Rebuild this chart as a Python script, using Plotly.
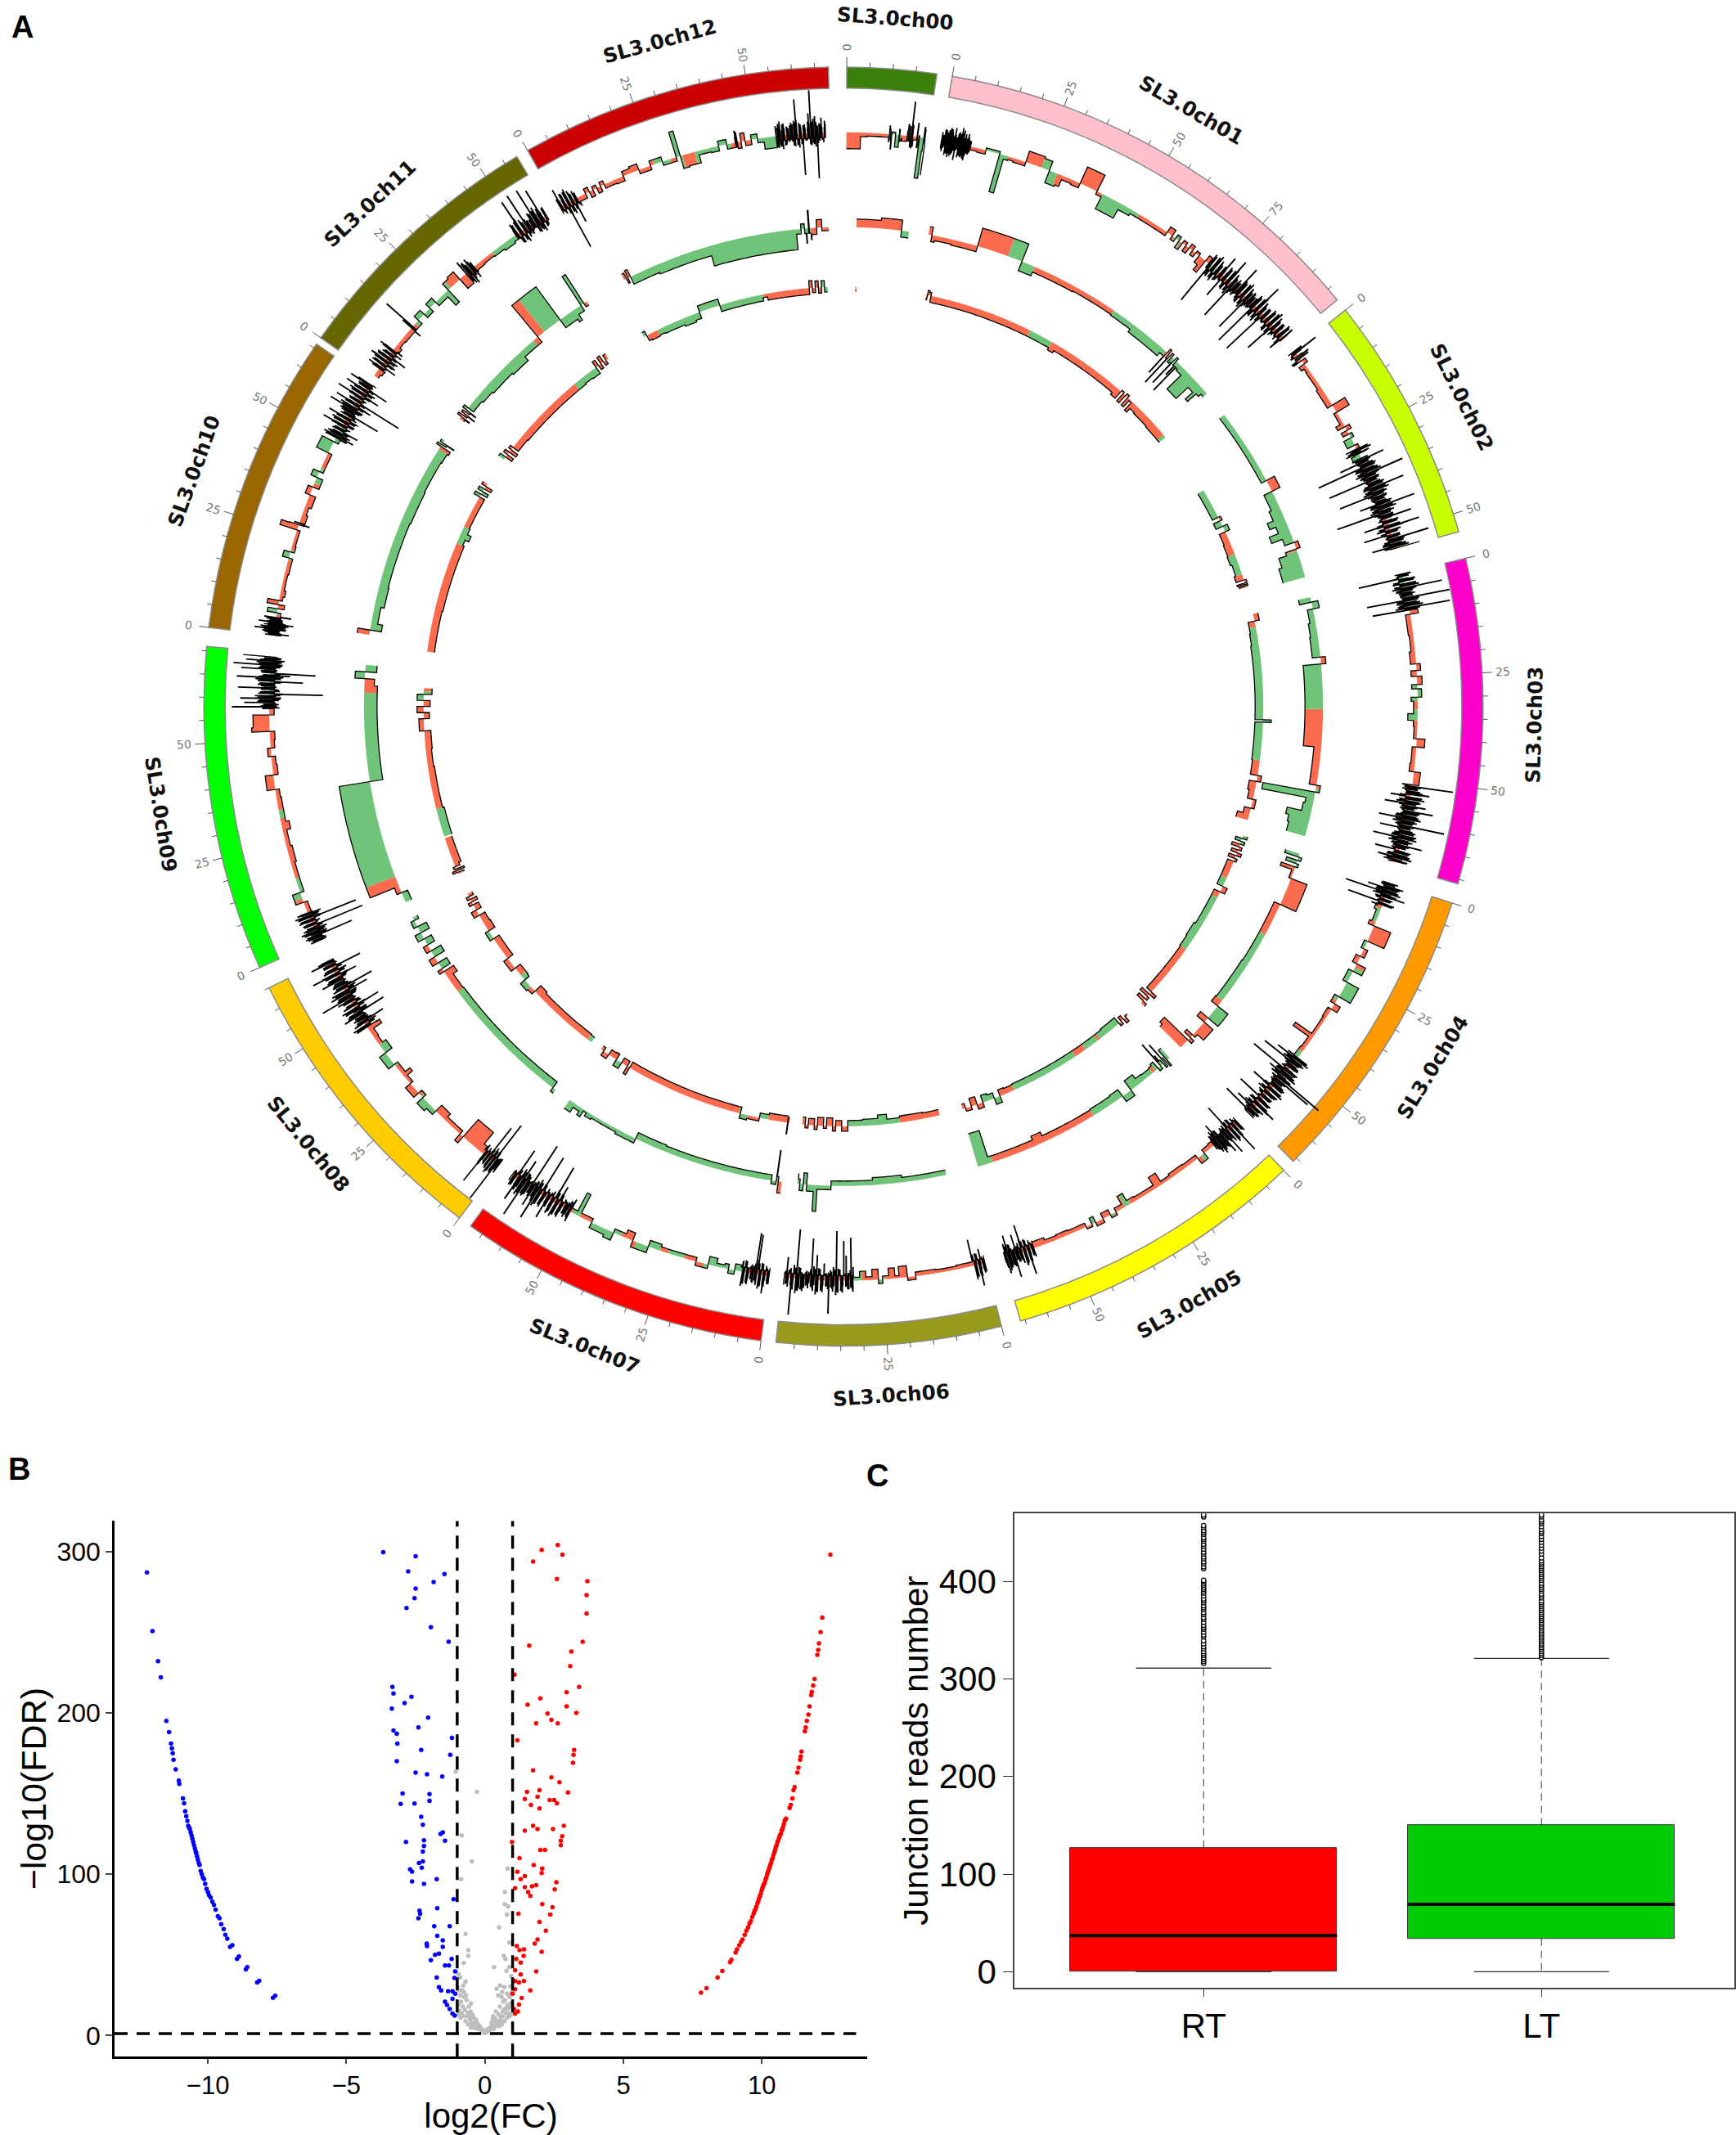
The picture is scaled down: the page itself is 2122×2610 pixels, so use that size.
import numpy as np
import plotly.graph_objects as go

W, H = 2122, 2610
CX, CY = 1031, 865  # centre of the circos panel, in page pixels

# ---- panel A: chromosomes
chrom_names = ["SL3.0ch00", "SL3.0ch01", "SL3.0ch02", "SL3.0ch03", "SL3.0ch04", "SL3.0ch05", "SL3.0ch06",
               "SL3.0ch07", "SL3.0ch08", "SL3.0ch09", "SL3.0ch10", "SL3.0ch11", "SL3.0ch12"]
chrom_start = [0.3, 9.8, 51.7, 76.6, 107.9, 136.5, 165.7, 187.4, 216.9, 245.9, 277.1, 305.2, 330.4]
chrom_len = [19.5, 98, 54, 71, 66, 66, 49, 68, 65, 71, 66, 58, 68]
chrom_colors = ["#3B7F0A", "#FFC0CB", "#C8FF00", "#FF00CC", "#FF9900", "#FFFF00", "#99991E",
                "#FF0000", "#FFCC00", "#00FF00", "#996600", "#666600", "#CC0000"]
label_theta = [4.3, 30.2, 63.4, 91.5, 121.5, 150, 176, 202, 230.7, 261, 290, 316.8, 344.6]
DEG_PER_MB = 0.4155

# ---- track 1 (outer): step ends in Mb, signed height, green spans
t1_ch00_end = [3.4, 5, 7.5, 10.2, 10.9, 11.8, 12.7, 13.4, 14.5, 15.2, 15.7, 16.1, 17, 17.6, 18.5, 19.2]
t1_ch00_val = [-20, -5, -4, -4, -18, 3, -15, -4, -7, -3, 42, -12, -4, 2, -50, -45]
t1_ch00_green = [[10.2, 13], [17.5, 19.2]]

t1_ch01_end = [.4, .8, 1.2, 1.6, 2, 2.4, 2.8, 3.2, 3.6, 4, 4.4, 4.8, 5.2, 5.6, 6, 6.4, 6.8, 7.2, 9, 11, 14.4, 15.6, 16.6, 18, 21,
               25, 27, 29.5, 30.5, 33, 35, 39.5, 41, 46, 49, 52, 56, 59, 60.5, 61.5, 62.5, 63.5, 64.5, 65.5, 66.5, 67.5, 68.5,
               69.5, 70.5, 71.5, 72, 72.6, 73.2, 73.8, 74.4, 75, 75.6, 76.2, 76.8, 77.4, 78, 78.6, 79.2, 79.8, 80.4, 81, 81.6,
               82.2, 82.8, 83.4, 84, 84.6, 85.2, 85.8, 86.4, 87, 87.6, 88.2, 88.8, 89.4, 90, 90.6, 91.2, 91.8, 92.4, 93, 93.6,
               94.2, 94.8, 95.4, 96, 96.6, 97]
t1_ch01_val = [-12, 14, -16, 10, -18, 16, -14, 18, -20, 12, -16, 20, -15, 8, -18, 14, -10, 6, -4, -5, 3, -48, -5, -4, -5,
               14, 12, -16, -14, -5, -6, 22, -4, -20, -8, -5, -5, -5, 8, -5, 5, -10, 4, -8, 6, -6, 3, -10, -18, 8,
               -55, -8, 9, -10, 8, -11, 25, -30, 8, -9, 30, -10, -50, 6, -11, 32, -10, -9, 10, -8, -48, 11, -9, 8,
               -60, -10, 34, -11, -6, -60, 10, -8, 10, -11, 7, -40, 9, -9, 10, -11, 8, -20, 6]
t1_ch01_green = [[11, 16.6], [25, 29], [41, 51], [61, 63], [72, 74]]

t1_ch02_end = [.7, 1.4, 2.2, 3, 4, 5, 6, 11, 16, 18, 21, 22, 23, 24, 25, 27, 28, 28.5, 29, 29.5, 30.5, 31, 31.6, 32.2, 32.8, 33.4, 34, 34.6,
               35.2, 35.8, 36.4, 37, 37.6, 38.2, 38.8, 39.4, 40, 40.6, 41.2, 41.8, 42.4, 43, 43.6, 44.2, 44.8, 45.4, 46, 46.6,
               47.2, 47.8, 48.4, 49, 49.6, 50.2, 50.8, 51.4, 52, 52.6, 53.2, 53.8]
t1_ch02_val = [30, -10, 6, -12, 5, -8, -4, -5, -7, 18, -4, -10, 6, -8, 4, -10, 4, -9, 3, -8, -11, 28, -30, 11, -62, 10, -9, 45,
               -10, 11, -55, 10, -11, 38, -9, 10, -48, 11, -9, 8, -26, 42, -10, 9, -60, 10, 32, -10, 11, -30, 38, -11, 9,
               -34, 10, 45, -11, 9, -28, 30]
t1_ch02_green = [[24, 27], [29, 31]]

t1_ch03_end = [.6, 1.2, 1.8, 2.4, 3, 3.6, 4.2, 4.8, 5.4, 6, 6.6, 7.2, 7.8, 8.4, 9, 10, 15, 19, 22, 23.6, 25, 27, 28, 30, 31, 34, 35.6,
               37, 40, 42, 46, 48, 51, 51.6, 52.2, 52.8, 53.4, 54, 54.6, 55.2, 55.8, 56.4, 57, 57.6, 58.2, 58.8, 59.4, 60, 60.6,
               61.2, 61.8, 62.4, 63, 63.6, 64.2, 64.8, 65.4, 66, 66.6, 67.2, 67.8, 68.4, 69, 69.6, 70.2]
t1_ch03_val = [-5, -55, 11, -9, 8, 45, -11, 6, -8, 52, -50, 10, -11, 50, -45, 10, -6, -5, -7, 5, -7, 6, -7, 5, -8, -5, -12,
               -5, -4, 10, -5, -6, 8, 50, -11, 10, 22, -24, 6, 11, -30, 20, -10, 30, -8, 11, -34, 10, -10, 48, -30, 10, -11,
               16, -36, 8, -11, 26, -10, -30, 10, 11, -24, 6, -10]
t1_ch03_green = [[0, 8], [27, 31], [33, 35.6]]

t1_ch04_end = [.5, 1, 1.5, 2, 2.5, 3, 3.5, 4, 4.5, 5, 5.5, 6, 7, 10, 11, 15, 17, 19, 21, 23, 26, 30, 32, 33.5, 36, 39, 41, 42, 45, 47.6,
               48.2, 48.8, 49.4, 50, 50.6, 51.2, 51.8, 52.4, 53, 53.6, 54.2, 54.8, 55.4, 56, 56.6, 57.2, 57.8, 58.4, 59, 59.6, 60.2, 60.8,
               61.4, 62, 62.6, 63.2, 63.8, 64.4, 65, 65.6]
t1_ch04_val = [-10, 18, -25, 11, -52, 6, 24, -11, 8, -45, 10, -6, -8, -5, -8, 22, -4, 5, -6, 12, -6, 16, -6, 8, -5, -4, -4, -28, -5, -6,
               -28, 10, -44, 6, 11, -10, -52, 10, -22, 5, 60, 45, -10, 11, 9, -30, 8, -10, 11, -10, 9, -36, 10, -11, 26, -8, -26, 11, -40, 8]
t1_ch04_green = [[6.5, 10], [15, 17], [22, 31], [46, 49]]

t1_ch05_end = [.5, 1, 1.5, 2, 2.5, 3, 3.5, 4, 4.5, 5, 5.5, 6, 6.5, 7, 7.5, 8, 9, 11, 13, 17, 21, 23.5, 25.5, 28, 31, 33, 34.5, 36.5, 38,
               40, 42, 43, 44.5, 46, 49, 52, 55, 58, 58.5, 59, 59.5, 60, 60.5, 61, 61.5, 62, 62.5, 63, 63.5, 64, 64.5, 65, 65.5]
t1_ch05_val = [8, -11, 36, -8, 16, -38, 6, 28, -11, 22, -6, 11, -24, 10, -11, 6, -6, -5, 8, -5, -6, -4, -16, -5, -5, -6, -16, -5, 4,
               -7, 5, -8, 3, -5, -5, -6, -5, -8, 8, -11, 30, -10, 16, -34, 6, 10, -24, 28, -8, 11, -26, 20, 6]
t1_ch05_green = [[11, 12], [32.5, 34], [37, 38], [42, 43]]

t1_ch06_end = [.5, 1, 1.5, 2, 2.5, 3, 7, 12, 17, 19, 21, 22, 23.5, 25, 26, 27.5, 29, 30.5, 32, 32.6, 33.2, 33.8, 34.4, 35, 35.6, 36.2, 36.8, 37.4, 38,
               38.6, 39.2, 39.8, 40.4, 41, 41.6, 42.2, 42.8, 43.4, 44, 44.6, 45.2, 45.8, 46.4, 47, 47.6, 48.2, 48.8]
t1_ch06_val = [11, -18, 26, -10, 8, -32, -5, -4, -5, 4, -14, -3, -13, -4, 5, -13, -4, -11, -4, -52, 10, -30, -48, 8, -11, -60, 6, -10, 40,
               -8, -20, 8, -11, -30, 6, -50, 4, -10, 10, -8, 11, -60, -11, 44, -10, -25, 8]
t1_ch06_green = [[24.5, 26], [30, 32]]

t1_ch07_end = [.5, 1, 1.5, 2, 2.5, 3, 3.5, 4, 4.5, 5, 5.5, 6, 6.5, 7, 8.5, 10, 11, 13, 15, 18, 20, 21, 23, 25, 27, 30, 34, 36, 39, 41, 44.8,
               46.5, 48, 49, 50.5, 51, 51.6, 52.2, 52.8, 53.4, 54, 54.6, 55.2, 55.8, 56.4, 57, 57.6, 58.2, 58.8, 59.4, 60, 60.6, 61.2, 61.8,
               62.4, 63, 63.6, 64.2, 64.8, 65.4, 66, 66.6, 67.2]
t1_ch07_val = [10, -11, 22, -11, 6, -48, -50, 11, -10, -6, 11, -9, 10, -5, -8, 5, -6, -4, -10, 5, -5, -5, -5, -5, -5, -8, 8, -10, -5, 10, 7,
               -5, -5, -30, -5, -11, 6, -8, -10, 11, -24, 6, -48, 16, -8, 26, -11, 8, -52, 10, 36, -11, 22, -60, 11, -11, 44, -30, 8, 28, -40, 11, 6]
t1_ch07_green = [[6, 16], [21, 25], [27, 33], [37, 45], [48, 50]]

t1_ch08_end = [.4, .8, 1.2, 1.6, 2, 2.4, 2.8, 3.2, 3.6, 4, 4.4, 5, 6, 11, 12, 15, 17, 20, 22, 24.5, 26, 29, 31, 32, 33, 35, 38.5, 41, 43, 45, 46,
               46.6, 47.2, 47.8, 48.4, 49, 49.6, 50.2, 50.8, 51.4, 52, 52.6, 53.2, 53.8, 54.4, 55, 55.6, 56.2, 56.8, 57.4, 58, 58.6, 59.2,
               59.8, 60.4, 61, 61.6, 62.2, 62.8, 63.4, 64, 64.6]
t1_ch08_val = [-8, 52, 10, -55, 11, -10, 11, -45, 8, -11, 40, -5, -10, -28, 10, -5, -5, -10, 6, 10, -5, 8, -4, -12, -5, -5, 9, -10, -5, -6, -18,
               10, -11, -28, 6, -8, 20, -36, 4, 11, -34, 8, -11, 16, 36, -11, 20, -30, -6, -40, 11, 8, 22, -11, -26, 30, -8, 11, -38, 10, 24, 10]
t1_ch08_green = [[20, 25], [34.5, 38], [38, 41]]

t1_ch09_end = [.5, 1, 1.5, 2, 2.5, 3, 3.5, 4, 4.5, 5, 5.5, 6, 6.5, 7, 7.5, 10, 12.5, 16, 20, 24, 26, 28, 30, 33, 36, 38, 41.5, 44, 46, 48,
               50, 52, 53, 56, 57.5, 58, 58.5, 59, 59.5, 60, 60.5, 61, 61.5, 62, 62.5, 63, 63.5, 64, 64.5, 65, 65.5, 66, 66.5, 67, 67.5, 68,
               68.5, 69, 69.5, 70]
t1_ch09_val = [-10, 11, -46, 6, -11, 10, -8, -65, 11, -11, 10, -60, -11, 8, -6, -5, 10, -5, -5, -7, -5, -5, -10, -6, -6, -5, 10, -6, -5, 4, -5,
               -6, 22, 20, -6, 45, -11, 30, -11, 35, -8, -65, 11, -11, 38, 10, 11, -40, 11, 40, -24, -55, 11, 35, -11, 45, -10, 30, -11, 34]
t1_ch09_green = [[11, 16], [31, 33], [60, 66]]

t1_ch10_end = [.4, .8, 1.2, 1.6, 2, 2.4, 2.8, 3.2, 3.6, 4, 4.6, 5.5, 6.5, 7.5, 8.5, 9.5, 11, 15, 19, 20.5, 22, 26, 27.2, 27.8, 30, 32, 35, 37, 39.5, 41, 43, 46,
               49, 50, 50.5, 51, 51.5, 52, 52.5, 53, 53.5, 54, 54.5, 55, 55.5, 56, 56.5, 57, 57.5, 58, 58.5, 59, 59.5, 60, 60.5, 61, 61.5, 62, 62.5, 63, 63.5, 64, 64.5, 65, 65.5]
t1_ch10_val = [-18, 11, -6, 24, -11, 8, -22, 20, -8, 11, -18, -5, 12, -8, 14, -4, -6, -4, -5, 8, -5, -4, 22, 6, -7, -5, -8, 6, -8, 8, -5, -5,
               16, -6, -22, 10, -11, -24, 8, -11, 26, -10, 11, -11, 24, -8, -40, 11, -11, 30, -6, -22, 26, -60, 11, -10, 30, -24, 11, -8, 25, -30, 11, 24, -10]
t1_ch10_green = [[5, 6.5], [18.5, 21], [38, 42], [46, 53]]

t1_ch11_end = [1, 2, 2.5, 3, 3.5, 4, 4.5, 5, 5.5, 6, 6.5, 7, 7.5, 8, 9, 11, 14.4, 15, 17, 19, 21, 23, 26, 27.2, 29, 31, 33, 33.6, 34.2, 34.8, 35.4, 36, 38, 41, 44, 47,
               48, 48.6, 49.2, 49.8, 50.4, 51, 51.6, 52.2, 52.8, 53.4, 54, 54.6, 55.2, 55.8, 56.4, 57]
t1_ch11_val = [-6, -8, 16, -20, 10, -16, 20, -8, 14, -24, 8, -14, 18, -6, -8, -5, -6, 42, -6, 7, -6, 7, -6, -20, 10, 12, -15, 12, -18, 14, -14, -6, -6, -5, -6, -8,
               -6, 11, -10, 42, -10, 8, 45, -11, 6, 11, 44, -11, 8, 38, -11, 11]
t1_ch11_green = [[16, 28], [41, 48]]

t1_ch12_end = [.5, 1, 1.5, 2, 2.5, 3, 3.5, 4, 4.5, 5, 7, 8, 9, 10, 11, 12, 15, 17, 19, 21, 24, 27, 30.5, 31.5, 33, 36, 39, 41, 43, 45, 45.6, 46.5, 47.5, 49, 50.5, 52, 55,
               55.5, 56, 56.5, 57, 57.5, 58, 58.5, 59, 59.5, 60, 60.5, 61, 61.5, 62, 62.5, 63, 63.5, 64, 64.5, 65, 65.5, 66, 66.5, 67]
t1_ch12_val = [22, -11, 14, -60, 10, -11, 8, -30, 6, -11, -6, 6, -8, 4, -7, 5, -5, -6, 6, 8, -5, 6, -5, 32, -16, -15, -5, -6, 6, -6, 12, -8, 10, -6, 6, -5, -14,
               10, -11, 6, 14, -11, 8, 11, -8, 16, 42, -10, 11, -50, 11, -8, 24, 52, -11, 20, -55, 11, 18, -11, 11]
t1_ch12_green = [[25, 29], [30.5, 32], [35, 44], [49, 55]]

# clutter height around the baseline inside the dense stretches of the outer track
cluster_core = [-9, 13, -15, 7, -12, 16, -6, 10, -18, 12, -8, 15, -14, 6, -11, 17, -7, 9, -16, 14, -10, 8, -13, 11]

# ---- track 2 (middle)
t2_ch00_start, t2_ch00_end, t2_ch00_val = 3, [10, 16, 18.2], [10, 13, -8]
t2_ch00_green = [[16, 18.2]]
t2_ch01_start = 1
t2_ch01_end = [2, 3, 8, 15.5, 29, 33, 46, 59, 66, 77, 78, 78.6, 79.2, 79.8, 80.4, 81, 81.6, 82.2, 82.8, 83.4, 84, 86, 90, 92, 93, 94, 95]
t2_ch01_val = [10, -8, -6, -7, 23, -12, -7, -6, -7, -11, -6, -32, 6, -44, 4, -8, -38, 4, -20, -44, -6, -8, -32, -12, -24, -10, -6]
t2_ch01_green = [[24.7, 33], [59, 78], [80, 95]]
t2_ch02_start = 2
t2_ch02_end = [24.5, 28, 33, 36, 38, 40, 42, 44, 46, 47, 50, 54.5]
t2_ch02_val = [-7, 11, -11, -14, -22, -14, -26, -12, 5, -14, -24, -28]
t2_ch02_green = [[2, 24.5], [28, 44], [46.5, 55]]
t2_ch03_start = .5
t2_ch03_end = [2, 4, 8, 12, 18, 20, 44, 55, 57, 59, 60.5, 63, 65, 67, 70]
t2_ch03_val = [-15, 8, -7, -9, -10, 6, -22, -9, 5, -65, -10, -12, -30, -26, -24]
t2_ch03_green = [[.5, 18], [20, 33], [56, 70]]
t2_ch04_start = 0
t2_ch04_end = [1, 2, 3, 4, 5, 7.5, 15.6, 25.3, 35, 48, 50, 54.4, 56, 60, 61, 62, 63, 65, 66]
t2_ch04_val = [-18, 4, -14, 3, -18, -3, 21, -8, -8, -9, -10, 16, -12, 14, 4, -10, 6, -40, -36]
t2_ch04_green = [[0, 4], [25.3, 48], [50, 54.4]]
t2_ch05_start = 1.5
t2_ch05_end = [2.5, 3, 3.5, 4, 4.5, 5, 6, 7, 8, 11, 13, 16, 19, 22, 29, 45, 48, 61, 62, 65.5]
t2_ch05_val = [-16, 8, -28, 6, -14, -34, 4, -10, -8, -7, -8, -14, 8, -10, -9, -8, -13, -8, -8, -42]
t2_ch05_green = [[1.5, 7], [8, 29], [61, 66]]
t2_ch06_start = 4.6
t2_ch06_end = [17.5, 26, 38, 42, 43, 45, 46, 47, 47.7]
t2_ch06_val = [-6, -9, -6, 5, 32, 8, -14, 8, -12]
t2_ch06_green = [[4, 48]]
t2_ch07_start = 0
t2_ch07_end = [1, 1.6, 3, 8, 20, 35, 44, 50, 58, 60, 61, 62, 64, 66]
t2_ch07_val = [14, -38, 4, -7, -7, -7, -8, 6, 4, 6, 2, 10, 5, 12]
t2_ch07_green = [[1, 68]]
t2_ch08_start = 0
t2_ch08_end = [1, 10, 20, 30, 38, 40, 45, 47, 48, 50, 52, 54, 56, 58, 60, 62, 64, 65]
t2_ch08_val = [5, -9, -9, -9, -9, -9, -8, -14, 6, -12, 8, -14, 6, -10, 8, -12, 5, -6]
t2_ch08_green = [[0, 40], [48, 50], [52, 54], [56, 65]]
t2_ch09_start = 0
t2_ch09_end = [3, 5, 8, 36.3, 62, 64, 66, 68, 70]
t2_ch09_val = [-8, 6, 38, 38, -16, -16, -12, 12, -14]
t2_ch09_green = [[0, 3], [8, 62], [66, 70]]
t2_ch10_start = 3.6
t2_ch10_end = [5, 7, 12, 18, 28, 38, 48, 58, 61, 62, 62.6, 63.2, 64]
t2_ch10_val = [15, -14, -8, -12, -11, -11, -12, -11, -12, -14, 6, -16, 4]
t2_ch10_green = [[5, 61], [62, 64]]
t2_ch11_start = 4
t2_ch11_end = [4.8, 5.4, 6, 6.6, 7.2, 8, 12, 16, 24, 30, 36.6, 44.7, 49, 50, 52, 53, 54]
t2_ch11_val = [-12, 6, -16, 4, -14, 6, -8, -10, -12, -14, -8, 50, -12, -16, -8, 42, -5]
t2_ch11_green = [[7, 35], [39, 53]]
t2_ch12_start = 5.8
t2_ch12_end = [6.5, 7, 7.8, 16, 32, 57.6, 59, 60, 60.6, 61.4, 62, 63.5, 65, 67]
t2_ch12_val = [8, -6, 10, -10, -12, -25, -6, 6, -18, 22, -14, -8, 10, -4]
t2_ch12_green = [[7.8, 62]]

# ---- track 3 (inner)
t3_ch00_start, t3_ch00_end, t3_ch00_val, t3_ch00_green = 3.2, [3.6], [-5], []
t3_ch01_start = 3.8
t3_ch01_end = [4.2, 4.8, 5.4, 23, 40, 48, 50, 74, 76, 77, 78, 79, 80, 81, 82, 84, 90, 97]
t3_ch01_val = [-6, 6, 4, -8, -8, -8, -11, -8, -11, 2, -12, 3, -12, -2, -14, -8, -9, -10]
t3_ch01_green = [[40, 48], [96, 97]]
t3_ch02_start = 17.6
t3_ch02_end = [27.7, 29, 31, 33, 37, 41, 44, 48, 50, 51, 51.5, 52, 52.5]
t3_ch02_val = [-8, 3, -9, 6, -8, -9, -10, -8, -10, 3, -10, 3, -8]
t3_ch02_green = [[17.6, 27.7], [29, 33], [41, 48]]
t3_ch03_start = 1.6
t3_ch03_end = [4, 8, 12, 25, 36.6, 37.4, 50, 55, 57, 60, 63, 66, 68, 70]
t3_ch03_val = [6, -8, -9, -10, -10, 10, -10, -9, 5, -9, -7, 4, -8, -15]
t3_ch03_green = [[6, 50]]
t3_ch04_start = 0
t3_ch04_end = [1, 2, 3, 4, 5, 6, 7, 8, 9, 10, 15, 18, 20, 22, 26, 33, 38, 42, 50, 60, 61, 62, 63, 64, 65]
t3_ch04_val = [6, -8, 5, -10, 4, -8, 6, -9, 3, -8, -8, -8, 6, -8, -8, -8, -10, -9, -8, -8, 8, -12, 3, -10, 6]
t3_ch04_green = [[0, 3], [15, 18], [22, 42]]
t3_ch05_start = 2
t3_ch05_end = [3, 4, 5, 6, 9, 12, 20, 30, 40, 47, 50, 52, 54, 56, 58, 60, 62, 64, 65]
t3_ch05_val = [-2, 6, -6, 4, -9, -9, -8, -8, -8, -8, -7, -8, 8, -7, -9, 6, -10, 4, -6]
t3_ch05_green = [[6, 14], [15, 20], [24, 47], [52, 58]]
t3_ch06_start = 2.5
t3_ch06_end = [8, 15.7, 20, 23, 28, 33, 35, 37, 38, 40, 41, 43, 44, 46, 47, 48]
t3_ch06_val = [-7, -8, -6, -12, -8, -7, 6, -7, 6, -10, 3, -10, 5, -8, 4, -9]
t3_ch06_green = [[15.7, 33]]
t3_ch07_start = 0
t3_ch07_end = [.6, 3, 7, 10, 14, 16.4, 30, 45, 55.9, 56.8, 59, 61, 62, 64, 66, 67]
t3_ch07_val = [14, -8, -8, -6, 4, 6, -8, -8, -8, 10, -7, 8, -8, -7, 6, -5]
t3_ch07_green = [[7, 10], [14, 17], [59, 61]]
t3_ch08_start = 0
t3_ch08_end = [1.5, 10, 22, 25, 27, 30, 31, 35, 39, 43, 47, 50, 53, 56, 58, 60, 61, 62, 63, 64]
t3_ch08_val = [-7, -8, -8, -10, 5, 7, -7, -8, 6, -8, -8, 5, -9, -8, 7, -7, 5, -8, 4, -6]
t3_ch08_green = [[0, 1.5], [27, 32], [47, 50]]
t3_ch09_start = 1.5
t3_ch09_end = [2, 2.6, 3.2, 4, 5, 14, 14.6, 24, 32, 38, 44, 50, 54, 56, 58, 60, 62, 64]
t3_ch09_val = [-8, 6, -10, 3, -6, -9, None, -10, -8, -8, -7, -8, 6, -7, 8, -8, 8, -10]
t3_ch09_green = [[14, 24], [60, 63]]
t3_ch10_start = 1
t3_ch10_end = [15, 38, 40, 42, 44, 46, 50, 55, 56, 57, 58, 59, 60]
t3_ch10_val = [-9, -10, -8, -13, -8, -7, -7, -7, 8, -8, 7, -9, 6]
t3_ch10_green = [[38, 44], [55, 58]]
t3_ch11_start = 2
t3_ch11_end = [3, 4, 5, 6, 7, 12, 25, 39, 42, 45, 46, 47, 48, 49, 50]
t3_ch11_val = [8, -9, 6, -10, 4, -8, -9, -9, -8, -9, 8, -6, 9, -5, 7]
t3_ch11_green = [[2, 3], [36, 45]]
t3_ch12_start = 3
t3_ch12_end = [4, 5, 8, 10, 17, 21, 23, 30, 40, 44.5, 46, 55, 60, 61, 62, 63, 64, 65, 66]
t3_ch12_val = [6, -7, -8, -7, -8, -10, -8, 8, -8, -8, -4, -8, -8, 9, -6, 8, -7, 8, -6]
t3_ch12_green = [[3, 4], [8, 44.5], [64, 66]]

# ---- panel B: volcano
blue_fc = [-7.57, -7.65, -8.15, -8.22, -8.58, -8.63, -8.88, -8.95, -9.12, -9.2, -9.3, -9.37, -9.43, -9.52, -9.58, -9.64, -9.72, -9.78,
           -9.84, -9.9, -9.96, -10.0, -10.05, -10.1, -10.14, -10.18, -10.22, -10.26, -10.3, -10.33, -10.36, -10.39, -10.42, -10.44,
           -10.47, -10.5, -10.53, -10.56, -10.59, -10.62, -10.65, -10.68, -10.71, -10.74, -10.78, -10.82, -10.86, -10.9, -11.03,
           -11.05, -11.16, -11.24, -11.27, -11.3, -11.33, -11.4, -11.5, -11.7, -11.8, -12.0, -12.2,
           -3.67, -2.5, -2.77, -1.46, -1.85, -2.5, -2.54, -2.83, -1.95, -1.31, -3.34, -3.3, -2.65, -2.9, -3.36, -2.05, -2.4, -3.3,
           -3.18, -1.19, -3.16, -2.3, -1.25, -3.18, -2.5, -2.09, -1.54, -2.97, -2.0, -2.0, -3.04, -2.54, -2.3, -2.24, -1.52, -1.6,
           -2.2, -2.85, -1.44, -2.2, -2.24, -2.24, -2.38, -2.28, -2.7, -2.63, -1.74, -2.63, -2.2, -1.13, -1.72, -2.36, -2.34, -2.4,
           -1.83, -1.27, -1.72, -1.52, -2.1, -2.09, -1.52, -1.66, -1.8, -1.2, -1.95, -1.44, -1.3, -1.07, -1.74, -1.1, -1.66, -1.58,
           -1.33, -1.17, -1.07, -1.17, -1.44, -1.37, -1.27, -1.17, -1.09]
blue_fdr = [24.7, 23.5, 34.0, 33.0, 42.5, 41.0, 49.0, 47.5, 56.0, 55.0, 60.0, 62.5, 66.0, 69.0, 72.7, 74.0, 78.0, 81.0,
            83.0, 85.5, 87.0, 89.0, 91.0, 94.0, 97.0, 98.0, 100.0, 102.0, 105.7, 107.0, 109.0, 111.0, 113.0, 114.0,
            116.0, 118.0, 120.0, 122.0, 124.0, 126.0, 128.0, 129.0, 130.0, 133.0, 136.0, 139.0, 144.0, 147.0, 156.0,
            158.0, 165.0, 171.0, 175.0, 178.0, 181.0, 188.0, 195.0, 222.0, 232.0, 250.6, 287.0,
            299.5, 297.0, 287.7, 286.0, 281.0, 277.0, 271.0, 265.0, 253.0, 244.0, 216.0, 212.0, 210.0, 206.0, 202.6, 197.0, 191.0, 189.0,
            187.0, 184.5, 181.0, 177.0, 174.0, 170.0, 163.0, 162.0, 160.6, 150.0, 149.6, 145.5, 143.6, 143.8, 135.6, 130.7, 126.0, 125.0,
            121.0, 120.0, 120.8, 117.5, 114.0, 108.0, 107.0, 104.0, 103.0, 101.6, 97.0, 95.5, 94.0, 84.5, 79.0, 77.4, 75.5, 72.7,
            67.8, 67.8, 61.8, 59.0, 57.0, 55.5, 55.0, 50.8, 50.0, 47.5, 46.7, 43.4, 43.4, 39.8, 36.0, 35.7, 30.0, 28.0,
            27.5, 27.5, 26.0, 22.8, 21.0, 19.0, 16.5, 13.7, 12.4]
red_fc = [7.8, 8.0, 8.4, 8.57, 8.85, 8.9, 9.05, 9.1, 9.18, 9.25, 9.3, 9.38, 9.44, 9.5, 9.55, 9.6, 9.65, 9.7, 9.73, 9.77, 9.8, 9.84, 9.87,
          9.9, 9.93, 9.96, 9.99, 10.02, 10.05, 10.08, 10.1, 10.13, 10.16, 10.19, 10.22, 10.25, 10.28, 10.3, 10.33, 10.36, 10.39, 10.42,
          10.45, 10.48, 10.5, 10.53, 10.56, 10.59, 10.62, 10.65, 10.68, 10.71, 10.73, 10.76, 10.79, 10.82, 10.85, 10.87, 11.0, 11.04,
          11.1, 11.14, 11.18, 11.28, 11.32, 11.38, 11.4, 11.43, 11.55, 11.58, 11.62, 11.68, 11.72, 11.78, 11.8, 11.85, 11.9, 12.0, 12.03,
          12.06, 12.12, 12.18, 12.47,
          2.63, 2.05, 2.8, 1.74, 2.6, 3.7, 3.67, 3.67, 3.53, 1.6, 3.12, 3.08, 1.07, 3.4, 2.95, 2.0, 1.54, 2.95, 3.3, 2.26, 2.4, 1.85, 2.63,
          1.17, 3.22, 3.2, 3.18, 1.74, 2.4, 2.69, 3.0, 1.97, 1.52, 2.5, 2.34, 1.44, 1.9, 2.6, 1.66, 1.97, 2.85, 1.74, 1.9, 1.44, 2.46, 2.79,
          2.74, 2.74, 2.0, 2.17, 0.98, 1.25, 1.76, 2.07, 1.17, 2.05, 1.44, 1.29, 1.85, 2.58, 1.7, 1.44, 1.09, 2.52, 1.56, 1.64, 2.07, 2.44,
          1.21, 2.36, 1.97, 2.2, 1.9, 1.15, 1.41, 1.25, 1.8, 2.05, 1.4, 1.13, 1.29, 1.85, 1.09, 1.29, 1.41, 1.09, 1.23, 1.64, 1.09, 1.33,
          1.23, 1.05, 1.19, 1.09, 1.0]
red_fdr = [26.6, 29.4, 36.0, 40.0, 45.5, 47.0, 51.5, 53.5, 56.0, 58.0, 59.5, 62.5, 65.0, 67.0, 69.5, 71.0, 73.5, 75.5, 77.0, 78.5, 80.0, 82.0, 83.5,
           85.0, 86.5, 88.0, 90.0, 91.5, 93.0, 94.0, 94.7, 96.5, 98.0, 100.0, 101.5, 103.0, 104.5, 105.7, 107.0, 109.0, 110.0, 112.0,
           113.5, 115.0, 116.7, 118.0, 120.0, 121.0, 122.5, 124.0, 125.0, 127.0, 127.6, 129.0, 131.0, 133.0, 134.0, 134.5, 141.0, 143.0,
           147.0, 152.0, 154.0, 163.0, 166.0, 171.0, 173.0, 176.0, 188.6, 191.0, 195.0, 199.0, 204.0, 211.0, 213.0, 217.0, 221.0, 236.0, 239.0,
           243.0, 250.0, 259.0, 298.0,
           304.0, 301.0, 298.0, 293.7, 283.0, 281.6, 273.0, 261.6, 244.0, 241.6, 238.0, 229.0, 223.7, 216.0, 212.7, 209.0, 205.0, 204.0, 200.0, 199.6, 195.7, 193.5, 193.5,
           183.0, 177.0, 174.0, 169.0, 164.4, 160.0, 157.0, 150.7, 152.0, 151.0, 146.0, 146.0, 146.6, 148.0, 144.0, 143.0, 140.8, 130.0, 130.0, 128.0, 127.0, 128.0, 123.5,
           120.8, 118.0, 115.0, 115.0, 120.0, 110.0, 105.7, 103.5, 101.5, 100.7, 98.8, 97.0, 93.3, 95.0, 92.5, 92.0, 91.4, 90.6, 89.0, 86.5, 81.5, 79.6,
           75.5, 75.0, 70.5, 65.0, 59.6, 55.5, 53.5, 53.0, 57.0, 52.0, 49.4, 47.5, 45.3, 39.8, 40.6, 37.9, 33.8, 33.8, 33.0, 28.0, 28.8, 23.3,
           19.2, 16.5, 15.0, 13.5, 26.0]
grey_fc = [-1.05, -0.29, -0.84, -0.47, 0.82, -0.86, 0.72, 0.72, 0.84, 0.8, 0.51, -0.7, 0.88, -0.6, -0.6, 0.68, 0.74, -0.76, 0.88, 0.33,
           0.78, 0.95, -0.95, -0.9, -0.7, -0.78, -0.82, 0.55, 0.42, 0.62, 0.7, 0.92, 0.48, 0.6, 0.8, -0.88, -0.74, -0.66, -0.96, -0.5,
           0.9, 0.66, 0.72, 0.82, 0.54, 0.4, 0.3, 0.28, -0.58, -0.52, -0.62, -0.72, -0.4, -0.45, -0.34, 0.18, 0.24, 0.36, 0.5, 0.58,
           0.46, 0.64, 0.76, 0.86, 0.94, -0.92, -0.84, -0.3, -0.25, -0.2, -0.16, -0.12, -0.08, -0.05, 0.0, 0.04, 0.08, 0.12, 0.16, 0.2,
           0.26, 0.32, 0.38, -0.36, -0.28, -0.22, -0.18, -0.14, -0.1, -0.06, -0.02, 0.02, 0.06, 0.1, 0.14, -0.44, -0.54, 0.44, 0.52,
           -0.98, -0.93, -0.86, -0.8, -0.76, -0.68, -0.64, -0.56, -0.48, -0.42, 0.97, 0.93, 0.87, 0.83, 0.77, 0.69, 0.63, 0.57, 0.47, 0.41,
           -0.96, -0.88, -0.78, -0.7, -0.6, -0.5, 0.96, 0.89, 0.79, 0.71, 0.61, 0.51, -0.38, -0.32, 0.34, 0.3]
grey_fdr = [163.6, 151.0, 124.0, 108.0, 103.5, 97.0, 89.0, 81.5, 80.0, 75.0, 67.0, 63.0, 57.6, 53.0, 49.4, 49.4, 47.5, 45.0, 42.5, 42.5,
            40.0, 37.0, 38.0, 36.0, 33.5, 31.0, 28.0, 31.0, 29.0, 27.0, 30.0, 30.5, 25.0, 24.0, 26.0, 25.0, 24.0, 22.0, 19.0, 20.0,
            24.0, 21.0, 22.0, 19.0, 18.0, 15.0, 12.0, 10.0, 18.0, 15.0, 14.0, 16.0, 11.0, 13.0, 10.0, 5.0, 8.0, 11.0, 13.0, 11.0,
            9.0, 15.0, 14.0, 17.0, 20.0, 15.5, 14.0, 9.0, 7.0, 6.0, 5.0, 4.0, 3.5, 2.5, 2.0, 2.2, 3.0, 2.8, 3.6, 4.5,
            6.0, 8.0, 7.0, 8.0, 6.0, 4.0, 5.5, 3.0, 2.5, 3.2, 1.8, 1.6, 2.4, 4.0, 3.0, 12.0, 10.0, 9.0, 8.0,
            30.0, 28.0, 21.0, 18.0, 27.0, 25.0, 12.0, 12.0, 8.0, 7.0, 27.0, 13.0, 25.0, 14.0, 17.0, 16.0, 12.0, 9.0, 7.0, 9.0,
            13.0, 11.0, 12.0, 9.0, 7.0, 5.0, 18.0, 12.0, 11.0, 9.0, 7.0, 6.0, 5.0, 4.5, 5.0, 4.0]
fdr_cut = 1.3
fc_cuts = [-1, 1]
volcano_xticks = [-10, -5, 0, 5, 10]
volcano_yticks = [0, 100, 200, 300]

# ---- panel C: box plot
box_names = ["RT", "LT"]
box_colors = ["#FF0000", "#00CD00"]
box_q1 = [0, 34]
box_median = [37, 69]
box_q3 = [127, 150]
box_low = [0, 0]
box_high = [311, 321]
rt_outliers = [316, 318, 320, 322, 324, 326, 328, 331, 333, 336, 339, 343, 345, 348, 351, 353, 355, 358, 361, 363, 366, 368, 371, 373, 375,
               378, 380, 382, 385, 388, 390, 392, 394, 396, 398, 400, 401, 413, 415, 418, 420, 423, 425, 428, 430, 433, 436, 438,
               441, 443, 445, 448, 450, 452, 455, 457, 466, 468]
lt_outliers = [322, 324, 326, 328, 330, 332, 334, 336, 338, 340, 342, 344, 346, 348, 350, 352, 354, 356, 358, 360, 362, 364, 366, 368, 370, 372,
               374, 376, 378, 380, 383, 385, 387, 390, 392, 394, 396, 398, 401, 403, 405, 407, 409, 411, 413, 415, 417, 419, 421, 424,
               428, 431, 434, 437, 440, 443, 446, 449, 451, 453, 456, 459, 461, 463, 466, 468]

# (polar radii below are page pixels: the polar domain is sized so that 1 unit = 1 px)
RING_OUT, RING_IN = 783, 757
TRACK_BASE = [703, 587, 514]
LABEL_R, TICK_LABEL_R = 845, 807


def paper(theta, r):
    t = np.radians(theta)
    return (CX + r * np.sin(t)) / W, 1 - (CY - r * np.cos(t)) / H


def arc(a, b):
    n = max(2, int(np.ceil(abs(b - a) / 0.4)) + 1)
    return np.linspace(a, b, n)


def thin_spikes(edge, ends, vals, core):
    """short bins are hairlines: clutter near the baseline, then a narrow sliver for the peak"""
    new_ends, new_vals = [], []
    k = 0
    for end, v in zip(ends, vals):
        w = end - edge
        if v is not None and w <= 0.85:
            if core:
                new_ends += [edge + w * .2, edge + w * .4, edge + w * .6, edge + w * .8, end]
                new_vals += [cluster_core[k % 24], cluster_core[(k + 7) % 24], cluster_core[(k + 13) % 24], -6, v]
                k += 3
            elif abs(v) >= 12:
                new_ends += [edge + w * .72, end]
                new_vals += [-6, v]
            else:
                new_ends.append(end)
                new_vals.append(v)
        else:
            new_ends.append(end)
            new_vals.append(v)
        edge = end
    return new_ends, new_vals


def add_step_track(line, coral, green, base, c_start, start, ends, vals, spans, core=False):
    """stepped profile around a baseline; fill to the baseline, split on the green spans"""
    edge = start
    ends, vals = thin_spikes(start, ends, vals, core)
    for end, v in zip(ends, vals):
        if v is None:
            edge = end
            line[0].append(None), line[1].append(None)
            continue
        a, b = c_start + edge * DEG_PER_MB, c_start + end * DEG_PER_MB
        th = arc(a, b)
        line[0].extend(th), line[1].extend([base + v] * len(th))
        cuts = sorted({edge, end} | {x for s in spans for x in s if edge < x < end})
        for p, q in zip(cuts[:-1], cuts[1:]):
            mid = (p + q) / 2
            target = green if any(s[0] <= mid <= s[1] for s in spans) else coral
            th = arc(c_start + p * DEG_PER_MB, c_start + q * DEG_PER_MB)
            target[0].extend(list(th) + list(th[::-1]) + [th[0], None])
            target[1].extend([base + v] * len(th) + [base] * len(th) + [base + v, None])
        edge = end
    line[0].append(None), line[1].append(None)


fig = go.Figure()

# chromosome ring
fig.add_trace(go.Barpolar(
    theta=[s + l * DEG_PER_MB / 2 for s, l in zip(chrom_start, chrom_len)],
    width=[l * DEG_PER_MB for l in chrom_len],
    base=[RING_IN] * len(chrom_names), r=[RING_OUT - RING_IN] * len(chrom_names),
    marker=dict(color=chrom_colors, line=dict(color="#8A8A8A", width=1.5)),
    showlegend=False, hoverinfo="skip"))

# ring ticks
tick_t, tick_r = [], []
annots = []
for s, l in zip(chrom_start, chrom_len):
    for mb in range(0, int(l) + 1, 5):
        th = s + mb * DEG_PER_MB
        out = 12 if mb % 25 == 0 else 6
        tick_t += [th, th, None]
        tick_r += [RING_OUT, RING_OUT + out, None]
        if mb % 25 == 0:
            x, y = paper(th, TICK_LABEL_R)
            ang = th - 90 if th <= 180 else th - 270
            annots.append(dict(x=x, y=y, xref="paper", yref="paper", xanchor="center", yanchor="middle", text=str(mb),
                               showarrow=False, textangle=ang, font=dict(family="DejaVu Sans", size=14, color="#777777")))
fig.add_trace(go.Scatterpolar(theta=tick_t, r=tick_r, mode="lines", line=dict(color="#555555", width=1),
                              showlegend=False, hoverinfo="skip"))

# chromosome names
for name, th in zip(chrom_names, label_theta):
    x, y = paper(th, LABEL_R)
    ang = th if th < 90 else (th - 180 if th < 270 else th - 360)
    annots.append(dict(x=x, y=y, xref="paper", yref="paper", xanchor="center", yanchor="middle", text="<b>%s</b>" % name,
                       showarrow=False, textangle=ang, font=dict(family="DejaVu Sans", size=24.5, color="#111111")))

# the three stepped tracks
line, coral, green = ([], []), ([], []), ([], [])
t1_ends = [t1_ch00_end, t1_ch01_end, t1_ch02_end, t1_ch03_end, t1_ch04_end, t1_ch05_end, t1_ch06_end, t1_ch07_end,
           t1_ch08_end, t1_ch09_end, t1_ch10_end, t1_ch11_end, t1_ch12_end]
t1_vals = [t1_ch00_val, t1_ch01_val, t1_ch02_val, t1_ch03_val, t1_ch04_val, t1_ch05_val, t1_ch06_val, t1_ch07_val,
           t1_ch08_val, t1_ch09_val, t1_ch10_val, t1_ch11_val, t1_ch12_val]
t1_greens = [t1_ch00_green, t1_ch01_green, t1_ch02_green, t1_ch03_green, t1_ch04_green, t1_ch05_green, t1_ch06_green,
             t1_ch07_green, t1_ch08_green, t1_ch09_green, t1_ch10_green, t1_ch11_green, t1_ch12_green]
for cs, e, v, g in zip(chrom_start, t1_ends, t1_vals, t1_greens):
    add_step_track(line, coral, green, TRACK_BASE[0], cs, 0, e, v, g, core=True)

t2 = [(t2_ch00_start, t2_ch00_end, t2_ch00_val, t2_ch00_green), (t2_ch01_start, t2_ch01_end, t2_ch01_val, t2_ch01_green),
      (t2_ch02_start, t2_ch02_end, t2_ch02_val, t2_ch02_green), (t2_ch03_start, t2_ch03_end, t2_ch03_val, t2_ch03_green),
      (t2_ch04_start, t2_ch04_end, t2_ch04_val, t2_ch04_green), (t2_ch05_start, t2_ch05_end, t2_ch05_val, t2_ch05_green),
      (t2_ch06_start, t2_ch06_end, t2_ch06_val, t2_ch06_green), (t2_ch07_start, t2_ch07_end, t2_ch07_val, t2_ch07_green),
      (t2_ch08_start, t2_ch08_end, t2_ch08_val, t2_ch08_green), (t2_ch09_start, t2_ch09_end, t2_ch09_val, t2_ch09_green),
      (t2_ch10_start, t2_ch10_end, t2_ch10_val, t2_ch10_green), (t2_ch11_start, t2_ch11_end, t2_ch11_val, t2_ch11_green),
      (t2_ch12_start, t2_ch12_end, t2_ch12_val, t2_ch12_green)]
for cs, (st, e, v, g) in zip(chrom_start, t2):
    add_step_track(line, coral, green, TRACK_BASE[1], cs, st, e, v, g)

t3 = [(t3_ch00_start, t3_ch00_end, t3_ch00_val, t3_ch00_green),
      (t3_ch01_start, t3_ch01_end, t3_ch01_val, t3_ch01_green), (t3_ch02_start, t3_ch02_end, t3_ch02_val, t3_ch02_green),
      (t3_ch03_start, t3_ch03_end, t3_ch03_val, t3_ch03_green), (t3_ch04_start, t3_ch04_end, t3_ch04_val, t3_ch04_green),
      (t3_ch05_start, t3_ch05_end, t3_ch05_val, t3_ch05_green), (t3_ch06_start, t3_ch06_end, t3_ch06_val, t3_ch06_green),
      (t3_ch07_start, t3_ch07_end, t3_ch07_val, t3_ch07_green), (t3_ch08_start, t3_ch08_end, t3_ch08_val, t3_ch08_green),
      (t3_ch09_start, t3_ch09_end, t3_ch09_val, t3_ch09_green), (t3_ch10_start, t3_ch10_end, t3_ch10_val, t3_ch10_green),
      (t3_ch11_start, t3_ch11_end, t3_ch11_val, t3_ch11_green), (t3_ch12_start, t3_ch12_end, t3_ch12_val, t3_ch12_green)]
for cs, (st, e, v, g) in zip(chrom_start, t3):
    add_step_track(line, coral, green, TRACK_BASE[2], cs, st, e, v, g)

for pts, col in ((coral, "#FB6B4E"), (green, "#6FC47A")):
    fig.add_trace(go.Scatterpolar(theta=pts[0], r=pts[1], mode="none", fill="toself", fillcolor=col,
                                  showlegend=False, hoverinfo="skip"))
fig.add_trace(go.Scatterpolar(theta=line[0], r=line[1], mode="lines", line=dict(color="black", width=1.3),
                              showlegend=False, hoverinfo="skip"))

# volcano
for xs, ys, col in ((grey_fc, grey_fdr, "#BEBEBE"), (blue_fc, blue_fdr, "#0000FF"), (red_fc, red_fdr, "#FF0000")):
    fig.add_trace(go.Scatter(x=xs, y=ys, mode="markers", marker=dict(color=col, size=5.5), xaxis="x", yaxis="y",
                             showlegend=False, hoverinfo="skip"))
dash = dict(color="black", width=3.5, dash="16px,11px")
fig.add_trace(go.Scatter(x=[-13.37, 13.4], y=[fdr_cut, fdr_cut], mode="lines", line=dash, xaxis="x", yaxis="y",
                         showlegend=False, hoverinfo="skip"))
for c in fc_cuts:
    fig.add_trace(go.Scatter(x=[c, c], y=[-13, 319], mode="lines", line=dash, xaxis="x", yaxis="y",
                             showlegend=False, hoverinfo="skip"))

# box plot, drawn from its statistics because the whiskers are dashed
box_x = [1, 2]
fig.add_trace(go.Bar(x=box_x, y=[q3 - q1 for q1, q3 in zip(box_q1, box_q3)], base=box_q1, width=0.79,
                     marker=dict(color=box_colors, line=dict(color="#333333", width=1)), xaxis="x2", yaxis="y2",
                     showlegend=False, hoverinfo="skip"))
for x, lo, q1, med, q3, hi, out in zip(box_x, box_low, box_q1, box_median, box_q3, box_high, [rt_outliers, lt_outliers]):
    fig.add_trace(go.Scatter(x=[x, x, None, x, x], y=[q3, hi, None, q1, lo], mode="lines", xaxis="x2", yaxis="y2",
                             line=dict(color="#333333", width=1, dash="9px,6px"), showlegend=False, hoverinfo="skip"))
    fig.add_trace(go.Scatter(x=[x - .2, x + .2, None, x - .2, x + .2], y=[hi, hi, None, lo, lo], mode="lines", xaxis="x2",
                             yaxis="y2", line=dict(color="#333333", width=1.3), showlegend=False, hoverinfo="skip"))
    fig.add_trace(go.Scatter(x=[x - .395, x + .395], y=[med, med], mode="lines", xaxis="x2", yaxis="y2",
                             line=dict(color="black", width=4), showlegend=False, hoverinfo="skip"))
    fig.add_trace(go.Scatter(x=[x] * len(out), y=out, mode="markers", xaxis="x2", yaxis="y2", showlegend=False,
                             hoverinfo="skip", marker=dict(symbol="circle", size=5.5, color="white", line=dict(color="black", width=1.2))))

for text, x, y in (("A", 27, 33), ("B", 23, 1799), ("C", 1072, 1807)):
    annots.append(dict(x=x / W, y=1 - y / H, xref="paper", yref="paper", xanchor="center", yanchor="middle",
                       text="<b>%s</b>" % text, showarrow=False, font=dict(family="Liberation Sans", size=38, color="black")))

fig.update_layout(
    width=W, height=H, margin=dict(l=0, r=0, t=0, b=0), paper_bgcolor="white", plot_bgcolor="white",
    font=dict(family="Liberation Sans", color="black"), annotations=annots, bargap=0,
    polar=dict(
        domain=dict(x=[(CX - 800) / W, (CX + 800) / W], y=[1 - (CY + 800) / H, 1 - (CY - 800) / H]),
        bgcolor="rgba(0,0,0,0)", barmode="overlay",
        angularaxis=dict(rotation=90, direction="clockwise", visible=False),
        radialaxis=dict(range=[0, 800], visible=False)),
    xaxis=dict(domain=[140 / W, 1060 / W], range=[-13.37, 13.8], anchor="y", tickvals=volcano_xticks, ticks="outside", ticklen=6,
               tickwidth=2, showline=True, linewidth=2.5, linecolor="black", showgrid=False, zeroline=False,
               tickfont=dict(size=31), title=dict(text="log2(FC)", font=dict(size=42), standoff=8)),
    yaxis=dict(domain=[1 - 2518 / H, 1 - 1862 / H], range=[-13, 319], anchor="x", tickvals=volcano_yticks, ticks="outside", ticklen=8,
               tickwidth=2, showline=True, linewidth=2.5, linecolor="black", showgrid=False, zeroline=False,
               tickfont=dict(size=32), title=dict(text="−log10(FDR)", font=dict(size=43), standoff=0)),
    xaxis2=dict(domain=[1240 / W, 2120 / W], range=[0.44, 2.571], anchor="y2", tickvals=box_x, ticktext=box_names, ticks="outside",
                ticklen=9, tickwidth=1, tickcolor="#333333", showline=True, mirror=True, linewidth=1.5, linecolor="#444444",
                showgrid=False, zeroline=False, tickfont=dict(size=42)),
    yaxis2=dict(domain=[1 - 2434 / H, 1 - 1853 / H], range=[-16.7, 469.5], anchor="x2", tickvals=[0, 100, 200, 300, 400], ticks="outside",
                ticklen=12, tickwidth=1, tickcolor="#333333", showline=True, mirror=True, linewidth=1.5, linecolor="#444444",
                showgrid=False, zeroline=False, tickfont=dict(size=42),
                title=dict(text="Junction reads number", font=dict(size=42), standoff=0)))

fig.write_html("out.html", config={"displayModeBar": False}, post_script="document.body.style.margin='0';")
